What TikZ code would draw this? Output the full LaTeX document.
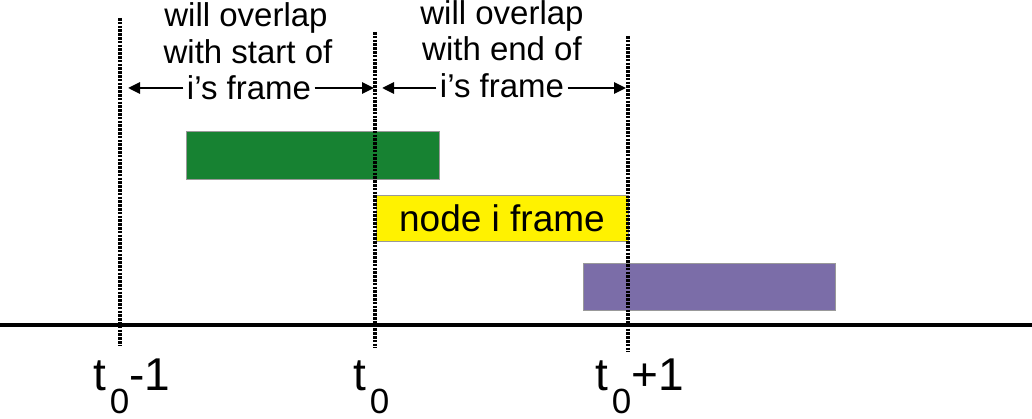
\documentclass[tikz,border=0pt]{standalone}
\usepackage{fontspec}
\setmainfont{Liberation Sans}
\usetikzlibrary{arrows.meta}
\definecolor{slotgreen}{HTML}{178232}
\definecolor{slotpurple}{HTML}{7B6DA8}
\newcommand{\subzero}{\kern4pt\raisebox{-23pt}{\fontsize{35}{35}\selectfont 0}}
\begin{document}
\begin{tikzpicture}[x=1pt,y=-1pt,
  txt/.style={anchor=base,font=\fontsize{33}{37}\selectfont},
  tick/.style={anchor=base west,inner sep=0pt,font=\fontsize{46}{46}\selectfont},
  slot/.style={draw=gray!80,line width=0.8pt},
  arr/.style={line width=2.8pt,-{Triangle[length=12pt,width=11pt]}},
  guide/.style={line width=3.2pt,dash pattern=on 2.6pt off 1.2pt}]
\useasboundingbox (0,0) rectangle (1032,419);
\fill[white] (0,0) rectangle (1032,419);

% slots
\draw[slot,fill=slotgreen] (186.5,131.5) rectangle (439.5,179);
\node[slot,fill=yellow,minimum width=252pt,minimum height=46pt,inner sep=0pt,
  font=\fontsize{37}{37}\selectfont] (frame) at (502,218) {node i frame};
\draw[slot,fill=slotpurple] (583,263) rectangle (835,310.5);

% time axis
\draw[line width=3.5pt] (0,325) -- (1032,325);

% guides
\coordinate (g1top) at (120,18);
\coordinate (g1bot) at (120,345);
\coordinate (g2top) at (375,32);
\coordinate (g2bot) at (375,348);
\coordinate (g3top) at (628,36);
\coordinate (g3bot) at (628,352);
\draw[guide] (g1top) -- (g1bot);
\draw[guide] (g2top) -- (g2bot);
\draw[guide] (g3top) -- (g3bot);

% overlap notes
\node[txt] (st1) at (246,27) {will overlap};
\node[txt] (st2) at (248,63.3) {with start of};
\node[txt] (st3) at (249,100) {i's frame};
\node[txt] (en1) at (502,25) {will overlap};
\node[txt] (en2) at (502,61) {with end of};
\node[txt] (en3) at (502,97.3) {i's frame};

\coordinate (stl) at (128,88);
\coordinate (str) at (374,88);
\coordinate (enl) at (382,88);
\coordinate (enr) at (626,88);
\draw[arr] (stl -| st3.west) -- (stl);
\draw[arr] (str -| st3.east) -- (str);
\draw[arr] (enl -| en3.west) -- (enl);
\draw[arr] (enr -| en3.east) -- (enr);

% ticks
\node[tick] (tm1) at (93,390) {t\subzero-1};
\node[tick] (t0) at (353,390) {t\subzero};
\node[tick] (tp1) at (595,390.5) {t\subzero+1};
\end{tikzpicture}
\end{document}
